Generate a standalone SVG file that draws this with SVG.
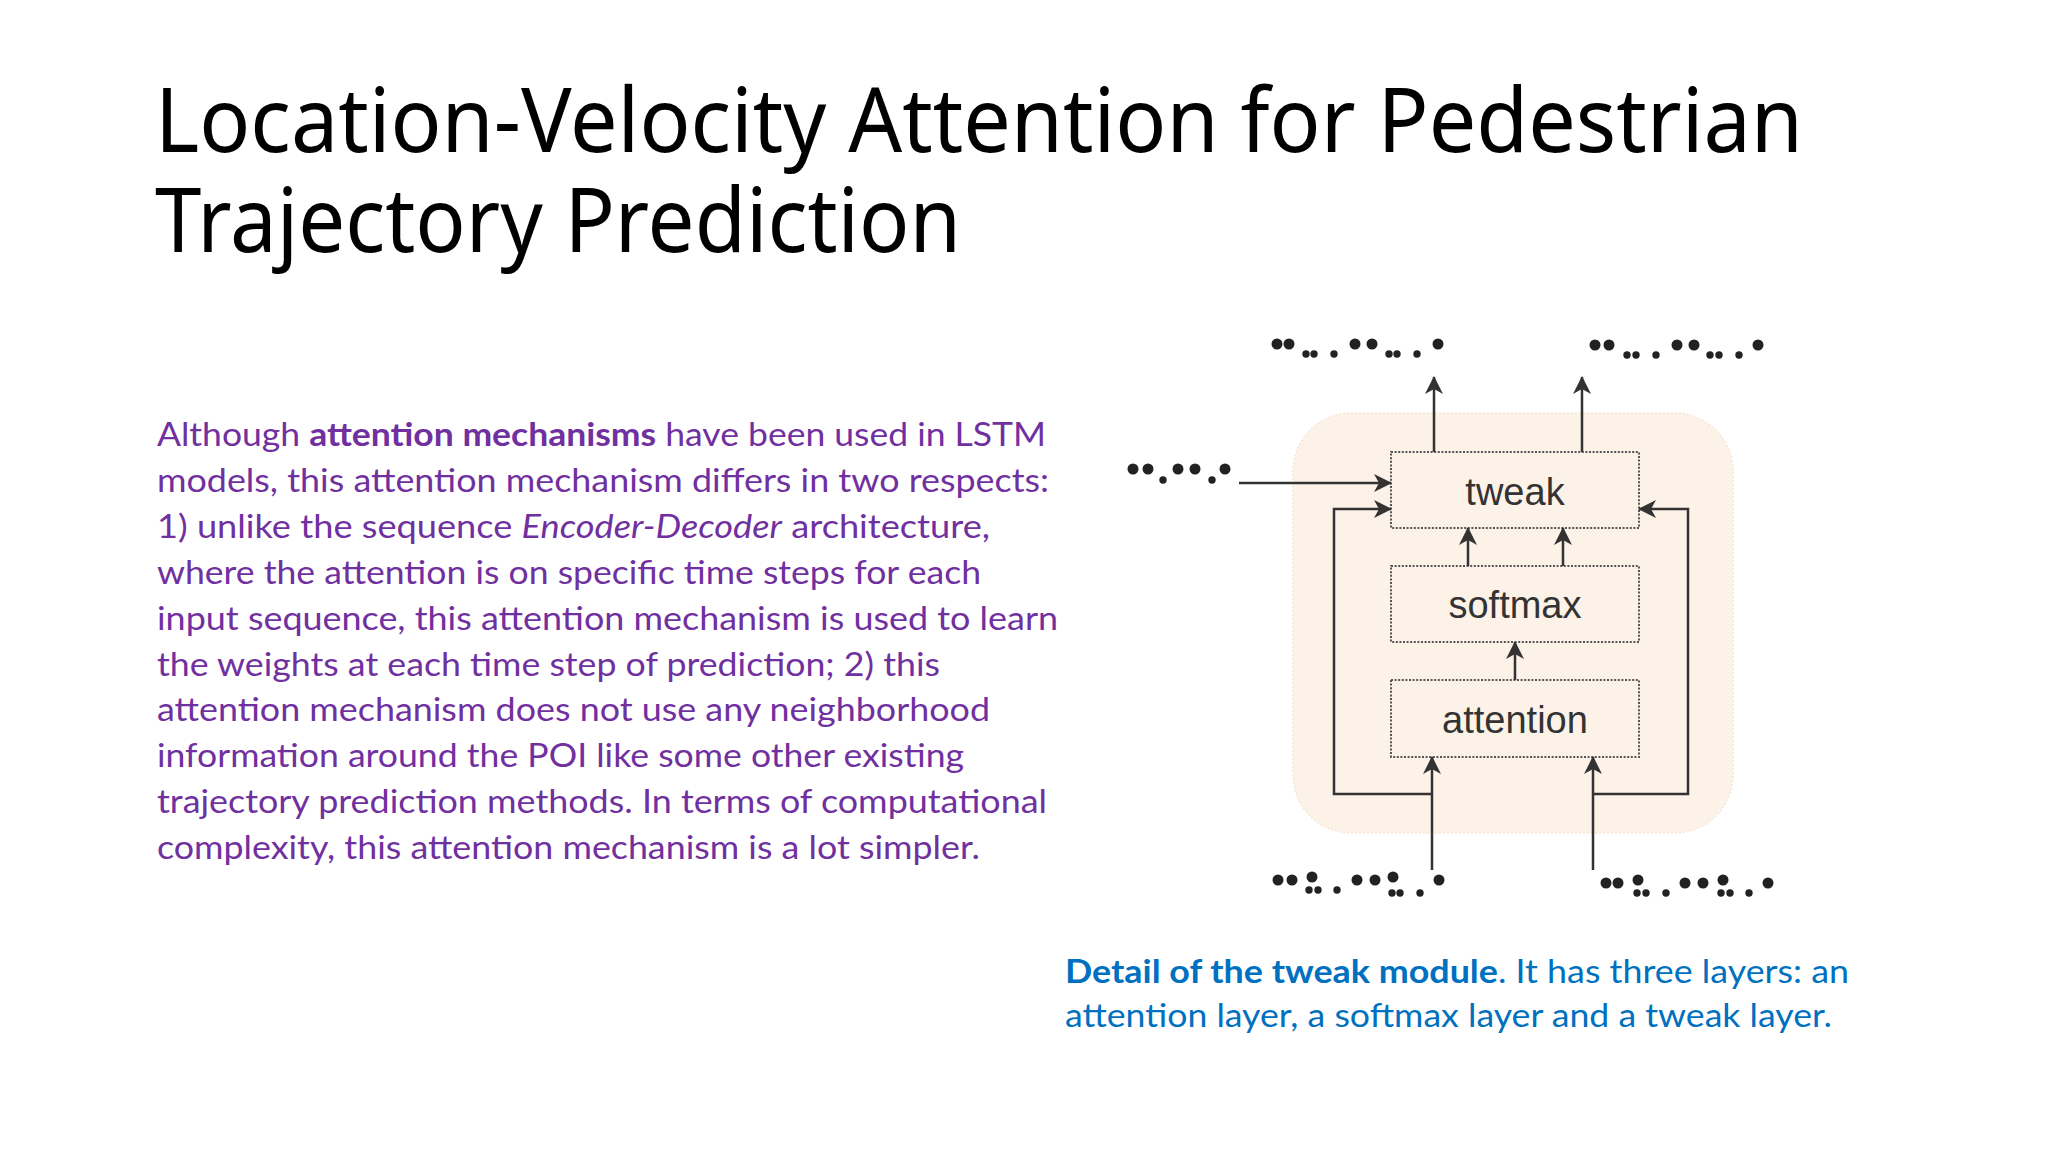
<svg xmlns="http://www.w3.org/2000/svg" width="2048" height="1152" viewBox="0 0 2048 1152">
<defs>
<marker id="ah" viewBox="0 0 18 18" refX="17" refY="9" markerWidth="18" markerHeight="18" markerUnits="userSpaceOnUse" orient="auto">
<path d="M0,0 L18,9 L0,18 L5,9 Z" fill="#333"/>
</marker>
</defs>
<style>
.title{font-family:"Noto Sans","Open Sans",sans-serif;font-size:90px;fill:#000}
.body{font-family:Lato,"Noto Sans",sans-serif;font-size:33px;fill:#7030A0}
.cap{font-family:Lato,"Noto Sans",sans-serif;font-size:33px;fill:#0070C0}
.lbl{font-family:"Liberation Sans",Arial,sans-serif;font-size:38px;fill:#333;text-anchor:middle}
.box{fill:none;stroke:#555;stroke-width:2;stroke-dasharray:2 1.6}
.conn{fill:none;stroke:#333;stroke-width:2.5}
.arr{marker-end:url(#ah)}
.big{fill:#222}
</style>
<rect width="2048" height="1152" fill="#ffffff"/>
<text class="title" x="155" y="152" textLength="1648" lengthAdjust="spacingAndGlyphs">Location-Velocity Attention for Pedestrian</text>
<text class="title" x="155" y="252" textLength="806" lengthAdjust="spacingAndGlyphs">Trajectory Prediction</text>

<g id="body-text">
<text class="body" x="157" y="446" textLength="889" lengthAdjust="spacingAndGlyphs">Although <tspan font-weight="bold">attention mechanisms</tspan> have been used in LSTM</text>
<text class="body" x="157" y="492" textLength="892" lengthAdjust="spacingAndGlyphs">models, this attention mechanism differs in two respects:</text>
<text class="body" x="157" y="538" textLength="833" lengthAdjust="spacingAndGlyphs">1) unlike the sequence <tspan font-style="italic">Encoder-Decoder</tspan> architecture,</text>
<text class="body" x="157" y="584" textLength="824" lengthAdjust="spacingAndGlyphs">where the attention is on specific time steps for each</text>
<text class="body" x="157" y="630" textLength="901" lengthAdjust="spacingAndGlyphs">input sequence, this attention mechanism is used to learn</text>
<text class="body" x="157" y="676" textLength="783" lengthAdjust="spacingAndGlyphs">the weights at each time step of prediction; 2) this</text>
<text class="body" x="157" y="721" textLength="833" lengthAdjust="spacingAndGlyphs">attention mechanism does not use any neighborhood</text>
<text class="body" x="157" y="767" textLength="807" lengthAdjust="spacingAndGlyphs">information around the POI like some other existing</text>
<text class="body" x="157" y="813" textLength="890" lengthAdjust="spacingAndGlyphs">trajectory prediction methods. In terms of computational</text>
<text class="body" x="157" y="859" textLength="823" lengthAdjust="spacingAndGlyphs">complexity, this attention mechanism is a lot simpler.</text>
</g>

<g id="caption">
<text class="cap" x="1065" y="983" textLength="784" lengthAdjust="spacingAndGlyphs"><tspan font-weight="bold">Detail of the tweak module</tspan>. It has three layers: an</text>
<text class="cap" x="1065" y="1027" textLength="767" lengthAdjust="spacingAndGlyphs">attention layer, a softmax layer and a tweak layer.</text>
</g>

<g id="module">
<rect x="1293" y="413" width="440" height="420" rx="58" fill="#fcf2e8" stroke="#f4e6d8" stroke-width="1.5" stroke-dasharray="2 2"/>
</g>

<g id="node-tweak">
<rect class="box" x="1391" y="452" width="248" height="76"/>
<text class="lbl" x="1515" y="505">tweak</text>
</g>
<g id="node-softmax">
<rect class="box" x="1391" y="566" width="248" height="76"/>
<text class="lbl" x="1515" y="618">softmax</text>
</g>
<g id="node-attention">
<rect class="box" x="1391" y="680" width="248" height="77"/>
<text class="lbl" x="1515" y="733">attention</text>
</g>

<g id="connectors">
<line class="conn arr" x1="1434" y1="452" x2="1434" y2="377"/>
<line class="conn arr" x1="1582" y1="452" x2="1582" y2="377"/>
<line class="conn arr" x1="1239" y1="483" x2="1391" y2="483"/>
<path class="conn arr" d="M1432,794 H1334 V509 H1391"/>
<path class="conn arr" d="M1593,794 H1688 V509 H1639"/>
<line class="conn arr" x1="1432" y1="870" x2="1432" y2="757"/>
<line class="conn arr" x1="1593" y1="870" x2="1593" y2="757"/>
<line class="conn arr" x1="1468" y1="566" x2="1468" y2="528"/>
<line class="conn arr" x1="1563" y1="566" x2="1563" y2="528"/>
<line class="conn arr" x1="1515" y1="680" x2="1515" y2="642"/>
</g>

<g id="dots-out-left" class="big">
<circle cx="1277" cy="344" r="5.5"/><circle cx="1289" cy="344" r="5.5"/>
<circle cx="1306" cy="354" r="3.7"/><circle cx="1314" cy="354" r="3.7"/>
<circle cx="1334" cy="354" r="3.7"/>
<circle cx="1355" cy="344" r="5.5"/><circle cx="1372" cy="344" r="5.5"/>
<circle cx="1389" cy="354" r="3.7"/><circle cx="1397" cy="354" r="3.7"/>
<circle cx="1417" cy="354" r="3.7"/>
<circle cx="1438" cy="344" r="5.5"/>
</g>
<g id="dots-out-right" class="big">
<circle cx="1595" cy="345" r="5.5"/><circle cx="1609" cy="345" r="5.5"/>
<circle cx="1627" cy="355" r="3.7"/><circle cx="1636" cy="355" r="3.7"/>
<circle cx="1656" cy="355" r="3.7"/>
<circle cx="1677" cy="345" r="5.5"/><circle cx="1694" cy="345" r="5.5"/>
<circle cx="1710" cy="355" r="3.7"/><circle cx="1719" cy="355" r="3.7"/>
<circle cx="1739" cy="355" r="3.7"/>
<circle cx="1758" cy="345" r="5.5"/>
</g>
<g id="dots-in-left" class="big">
<circle cx="1133" cy="469" r="5.5"/><circle cx="1148" cy="469" r="5.5"/>
<circle cx="1163" cy="480" r="3.7"/>
<circle cx="1178" cy="469" r="5.5"/><circle cx="1195" cy="469" r="5.5"/>
<circle cx="1212" cy="480" r="3.7"/>
<circle cx="1225" cy="469" r="5.5"/>
</g>
<g id="dots-bottom-left" class="big">
<circle cx="1278" cy="880" r="5.5"/><circle cx="1292" cy="880" r="5.5"/>
<circle cx="1312" cy="877" r="5.5"/>
<circle cx="1309" cy="890" r="3.7"/><circle cx="1318" cy="890" r="3.7"/>
<circle cx="1337" cy="890" r="3.7"/>
<circle cx="1357" cy="880" r="5.5"/><circle cx="1375" cy="880" r="5.5"/>
<circle cx="1393" cy="877" r="5.5"/>
<circle cx="1392" cy="893" r="3.7"/><circle cx="1400" cy="893" r="3.7"/>
<circle cx="1420" cy="893" r="3.7"/>
<circle cx="1439" cy="880" r="5.5"/>
</g>
<g id="dots-bottom-right" class="big">
<circle cx="1606" cy="883" r="5.5"/><circle cx="1618" cy="883" r="5.5"/>
<circle cx="1638" cy="880" r="5.5"/>
<circle cx="1637" cy="893" r="3.7"/><circle cx="1646" cy="893" r="3.7"/>
<circle cx="1666" cy="893" r="3.7"/>
<circle cx="1685" cy="883" r="5.5"/><circle cx="1703" cy="883" r="5.5"/>
<circle cx="1723" cy="880" r="5.5"/>
<circle cx="1721" cy="893" r="3.7"/><circle cx="1730" cy="893" r="3.7"/>
<circle cx="1749" cy="893" r="3.7"/>
<circle cx="1768" cy="883" r="5.5"/>
</g>
</svg>
